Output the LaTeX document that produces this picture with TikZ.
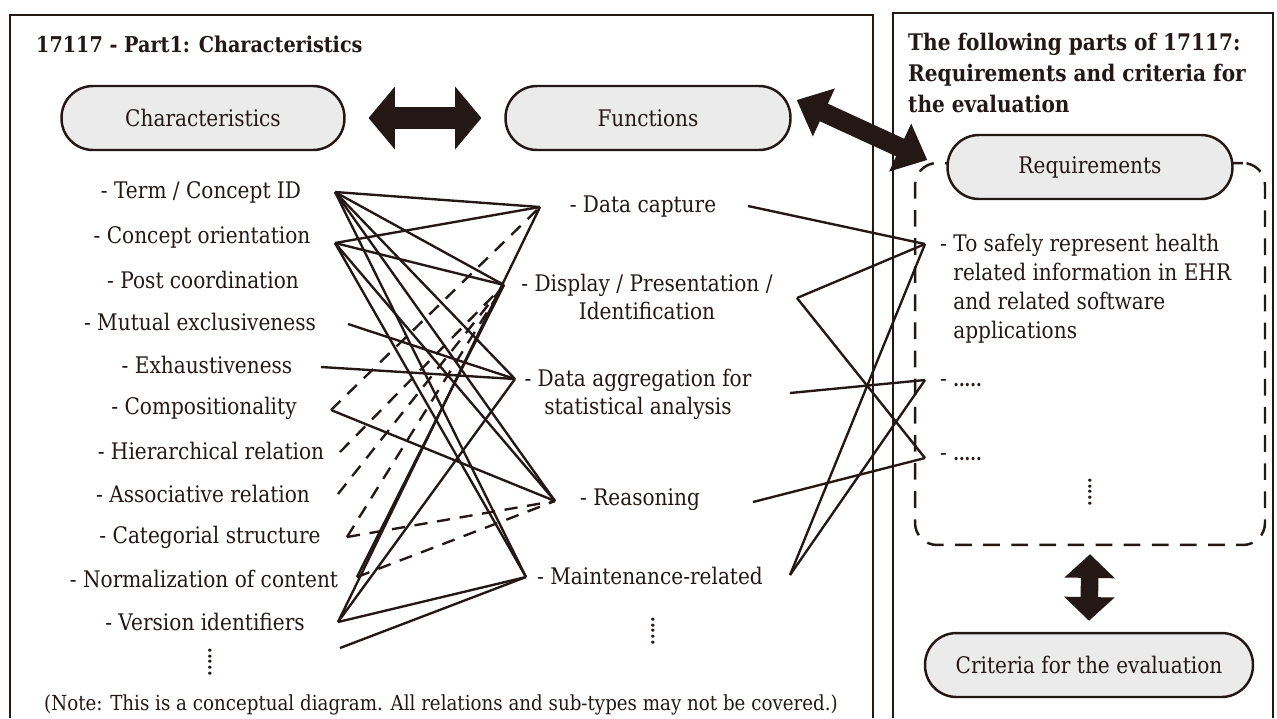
\documentclass[tikz,border=0pt]{standalone}
\usepackage{fontspec}
\setmainfont{DejaVu Serif}[FakeStretch=0.88]
\usetikzlibrary{arrows.meta}
\definecolor{ink}{HTML}{231815}
\definecolor{pillgray}{HTML}{EBEBEB}
\tikzset{
  pill/.style={draw=ink, line width=1.4pt, fill=pillgray, rounded corners=0.63cm, minimum height=1.28cm},
  dbox/.style={draw=ink, line width=1.4pt, dash pattern=on 9.5pt off 6.5pt, rounded corners=0.44cm, minimum width=7cm, minimum height=7.64cm},
  frame/.style={draw=ink, line width=1.5pt},
  link/.style={draw=ink, line width=1.35pt},
  dlink/.style={link, dash pattern=on 7.5pt off 5.5pt},
  vdots/.style={rotate=90, inner sep=0pt, font=\bfseries\fontsize{10.5}{10.5}\selectfont},
  harrow/.style={line width=13pt, {Triangle[width=35pt,length=15pt]}-{Triangle[width=35pt,length=15pt]}, shorten <=13pt, shorten >=13pt},
  darrow/.style={line width=11pt, {Triangle[width=29pt,length=17pt]}-{Triangle[width=29pt,length=17pt]}},
  varrow/.style={line width=10pt, {Triangle[width=28pt,length=13.5pt]}-{Triangle[width=28pt,length=13.5pt]}}
}
\begin{document}
\begin{tikzpicture}[x=0.02cm, y=-0.02cm, color=ink, font=\fontsize{13}{16}\selectfont]
\useasboundingbox (0,0) rectangle (1277,718);

% the two panels
\draw[frame] (10,718) |- (873,15) -- (873,718);
\draw[frame] (893,718) |- (1273,13) -- (1273,718);

\node[anchor=west, font=\bfseries\fontsize{12.4}{16}\selectfont] (ttl1) at (30,44) {17117 - Part1: Characteristics};
\node[anchor=north west, align=left, font=\bfseries\fontsize{13}{17.6}\selectfont] (ttl2) at (902,27) {The following parts of 17117:\\Requirements and criteria for\\the evaluation};

% pills
\node[pill, minimum width=5.66cm] (char) at (203,118) {Characteristics};
\node[pill, minimum width=5.7cm] (func) at (648,118) {Functions};
\node[dbox] (reqbox) at (1090,354) {};
\node[pill, minimum width=5.7cm] (req) at (1090,167) {Requirements};
\node[pill, minimum width=6.56cm] (crit) at (1089,665) {Criteria for the evaluation};

\draw[harrow] (char) -- (func);
\draw[darrow] ([shift={(5,-18)}]func.east) -- ([shift={(-19,-7)}]req.west);
\draw[varrow] ([shift={(0,8)}]reqbox.south) -- ([shift={(0,-11)}]crit.north);

% characteristics
\node (term) at (201,192) {- Term / Concept ID};
\node (conc) at (202,237) {- Concept orientation};
\node (post) at (203,280) {- Post coordination};
\node (mutu) at (200,322) {- Mutual exclusiveness};
\node (exha) at (207,365) {- Exhaustiveness};
\node (comp) at (204,408) {- Compositionality};
\node (hier) at (211,451) {- Hierarchical relation};
\node (asso) at (203,494) {- Associative relation};
\node (cate) at (210,537) {- Categorial structure};
\node (norm) at (204,579) {- Normalization of content};
\node (vers) at (205,622) {- Version identifiers};
\node[vdots] (cdots) at (210,662) {.....};

% functions
\node (dc) at (643,207) {- Data capture};
\node[align=center] (disp) at (647,297) {- Display / Presentation /\\Identification};
\node[align=center] (agg) at (638,394) {- Data aggregation for\\statistical analysis};
\node (reas) at (640,500) {- Reasoning};
\node (maint) at (650,576) {- Maintenance-related};
\node[vdots] (fdots) at (653,631) {.....};

% requirements
\node[anchor=north west, align=left, font=\fontsize{13}{16.5}\selectfont] (reqa) at (934,228) {- To safely represent health\\\phantom{- }related information in EHR\\\phantom{- }and related software\\\phantom{- }applications};
\node[anchor=west] (reqb) at (934,383) {- \textbf{\fontsize{10.5}{10.5}\selectfont .....}};
\node[anchor=west] (reqc) at (934,457) {- \textbf{\fontsize{10.5}{10.5}\selectfont .....}};
\node[vdots] (rdots) at (1090,492) {.....};

\node[font=\fontsize{11.8}{14}\selectfont] (note) at (441,705) {(Note: This is a conceptual diagram. All relations and sub-types may not be covered.)};

% line ends
\coordinate (term-p) at (335,192);
\coordinate (conc-p) at (335,243);
\coordinate (mutu-p) at (348,324);
\coordinate (exha-p) at (321,367);
\coordinate (comp-p) at (331,410);
\coordinate (hier-p) at (340,452);
\coordinate (asso-p) at (338,494);
\coordinate (cate-p) at (347,537);
\coordinate (norm-p) at (357,577);
\coordinate (vers-p) at (338,622);
\coordinate (etc-p) at (340,648);
\coordinate (dc-l) at (540,207);
\coordinate (disp-l) at (504,285);
\coordinate (agg-l) at (515,379);
\coordinate (reas-l) at (555,501);
\coordinate (maint-l) at (526,577);
\coordinate (dc-r) at (748,206);
\coordinate (disp-r) at (797,298);
\coordinate (agg-r) at (790,393);
\coordinate (reas-r) at (753,502);
\coordinate (maint-r) at (790,575);
\coordinate (reqa-p) at (925,244);
\coordinate (reqb-p) at (925,380);
\coordinate (reqc-p) at (925,458);

\draw[link] (term-p) -- (dc-l);
\draw[link] (term-p) -- (disp-l);
\draw[link] (term-p) -- (agg-l);
\draw[link] (term-p) -- (reas-l);
\draw[link] (term-p) -- (maint-l);
\draw[link] (conc-p) -- (dc-l);
\draw[link] (conc-p) -- (disp-l);
\draw[link] (conc-p) -- (reas-l);
\draw[link] (conc-p) -- (maint-l);
\draw[link] (mutu-p) -- (agg-l);
\draw[link] (exha-p) -- (agg-l);
\draw[link] (comp-p) -- (reas-l);
\draw[dlink] (comp-p) -- (dc-l);
\draw[dlink] (hier-p) -- (disp-l);
\draw[dlink] (asso-p) -- (disp-l);
\draw[dlink] (cate-p) -- (disp-l);
\draw[dlink] (cate-p) -- (reas-l);
\draw[link] (norm-p) -- (disp-l);
\draw[dlink] (norm-p) -- (reas-l);
\draw[link] (vers-p) -- (dc-l);
\draw[link] (vers-p) -- (agg-l);
\draw[link] (vers-p) -- (maint-l);
\draw[link] (etc-p) -- (maint-l);

\draw[link] (dc-r) -- (reqa-p);
\draw[link] (disp-r) -- (reqa-p);
\draw[link] (disp-r) -- (reqc-p);
\draw[link] (agg-r) -- (reqb-p);
\draw[link] (reas-r) -- (reqc-p);
\draw[link] (maint-r) -- (reqa-p);
\draw[link] (maint-r) -- (reqb-p);

\end{tikzpicture}
\end{document}
